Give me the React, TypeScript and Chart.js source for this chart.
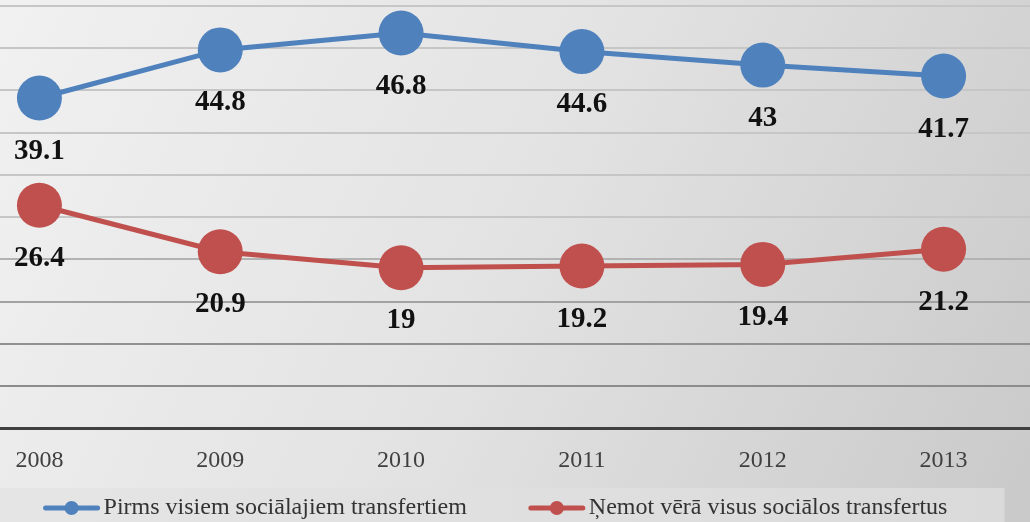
import React, { useEffect, useRef } from "react";
import { Chart, registerables } from "chart.js";
Chart.register(...registerables);

const years = ["2008", "2009", "2010", "2011", "2012", "2013"];
const beforeTransfers = [39.1, 44.8, 46.8, 44.6, 43, 41.7];
const withoutTransfers = [26.4, 20.9, 19, 19.2, 19.4, 21.2];
const seriesNames = [
  "Pirms visiem sociālajiem transfertiem",
  "Ņemot vērā visus sociālos transfertus",
];
const yMin = 0;
const yMax = 50;
const yStep = 5;

const BLUE = "#4f81bd";
const RED = "#c0504d";
const SERIF = "'Liberation Serif', 'Times New Roman', serif";

const backgroundPlugin = {
  id: "bg",
  beforeDraw(chart: any) {
    const { ctx, width, height } = chart;
    ctx.save();
    const g = ctx.createLinearGradient(0, 0, width, height);
    g.addColorStop(0, "#f2f2f2");
    g.addColorStop(0.5, "#e3e3e3");
    g.addColorStop(1, "#c9c9c9");
    ctx.fillStyle = g;
    ctx.fillRect(0, 0, width, height);
    ctx.restore();
  },
};

// custom legend: line sample with dot, then text
const legendPlugin = {
  id: "customLegend",
  beforeDatasetsDraw(chart: any) {
    const { ctx, width, height } = chart;
    ctx.save();
    ctx.font = `24px ${SERIF}`;
    const lineW = 56;
    const gapText = 4;
    const gapItems = 62;
    const items = chart.data.datasets.map((ds: any) => ({
      text: ds.label,
      color: ds.borderColor,
      w: lineW + gapText + ctx.measureText(ds.label).width,
    }));
    const total = items.reduce((s: number, it: any) => s + it.w, 0) + gapItems * (items.length - 1);
    let x = (width - total) / 2 + 4;
    const cy = height - 14;
    // legend box
    const bl = x - 100;
    const br = x + total + 57;
    const g2 = ctx.createLinearGradient(bl, 0, br, 0);
    g2.addColorStop(0, "#e6e6e6");
    g2.addColorStop(1, "#dadada");
    ctx.fillStyle = g2;
    ctx.fillRect(bl, height - 34, br - bl, 34);
    items.forEach((it: any) => {
      ctx.strokeStyle = it.color;
      ctx.lineWidth = 5;
      ctx.lineCap = "round";
      ctx.beginPath();
      ctx.moveTo(x + 2, cy);
      ctx.lineTo(x + lineW - 2, cy);
      ctx.stroke();
      ctx.fillStyle = it.color;
      ctx.beginPath();
      ctx.arc(x + lineW / 2, cy, 7, 0, Math.PI * 2);
      ctx.fill();
      ctx.fillStyle = "#333333";
      ctx.textAlign = "left";
      ctx.textBaseline = "middle";
      ctx.fillText(it.text, x + lineW + gapText, cy);
      x += it.w + gapItems;
    });
    ctx.restore();
  },
};

const labelPlugin = {
  id: "valueLabels",
  afterDatasetsDraw(chart: any) {
    const { ctx } = chart;
    ctx.save();
    ctx.font = `bold 29px ${SERIF}`;
    ctx.fillStyle = "#111111";
    ctx.textAlign = "center";
    ctx.textBaseline = "middle";
    chart.data.datasets.forEach((ds: any, i: number) => {
      const meta = chart.getDatasetMeta(i);
      meta.data.forEach((el: any, j: number) => {
        ctx.fillText(String(ds.data[j]), el.x, el.y + 53);
      });
    });
    ctx.restore();
  },
};

function gridColor(v: number) {
  if (v >= 25) return "rgba(198,198,198,1)";
  if (v >= 20) return "rgba(178,178,178,1)";
  if (v >= 15) return "rgba(162,162,162,1)";
  if (v >= 10) return "rgba(145,145,145,1)";
  return "rgba(140,140,140,1)";
}

export default function App() {
  const ref = useRef<HTMLCanvasElement>(null);
  useEffect(() => {
    document.body.style.margin = "0";
    const chart = new Chart(ref.current!, {
      type: "line",
      data: {
        labels: years,
        datasets: [
          {
            label: seriesNames[0],
            data: beforeTransfers,
            borderColor: BLUE,
            backgroundColor: BLUE,
            borderWidth: 5,
            pointRadius: 22.5,
            pointHoverRadius: 22.5,
            pointBackgroundColor: BLUE,
            pointBorderWidth: 0,
            tension: 0,
          } as any,
          {
            label: seriesNames[1],
            data: withoutTransfers,
            borderColor: RED,
            backgroundColor: RED,
            borderWidth: 5,
            pointRadius: 22.5,
            pointHoverRadius: 22.5,
            pointBackgroundColor: RED,
            pointBorderWidth: 0,
            tension: 0,
          } as any,
        ],
      },
      options: {
        animation: false,
        responsive: true,
        maintainAspectRatio: false,
        layout: { autoPadding: false, padding: { top: 6, left: 0, right: 0, bottom: 29 } },
        scales: {
          x: {
            offset: true,
            grid: { display: false, drawTicks: false },
            border: { display: true, color: "#404040", width: 3 },
            ticks: {
              color: "#404040",
              font: { family: SERIF, size: 24 },
              padding: 18,
              maxRotation: 0,
            },
          },
          y: {
            min: yMin,
            max: yMax,
            ticks: { stepSize: yStep, display: false },
            grid: {
              drawTicks: false,
              lineWidth: 2,
              color: (ctx: any) => gridColor(ctx.tick ? ctx.tick.value : 0),
            },
            border: { display: false },
          },
        },
        plugins: {
          tooltip: { enabled: false },
          legend: { display: false },
        },
      },
      plugins: [backgroundPlugin, legendPlugin, labelPlugin],
    } as any);
    return () => chart.destroy();
  }, []);
  return (
    <div
      style={{
        position: "fixed",
        left: 0,
        top: 0,
        width: 1030,
        height: 522,
        overflow: "hidden",
        background: "#e0e0e0",
      }}
    >
      <div style={{ position: "absolute", left: -51, top: 0, width: 1085, height: 522 }}>
        <canvas ref={ref} />
      </div>
    </div>
  );
}
